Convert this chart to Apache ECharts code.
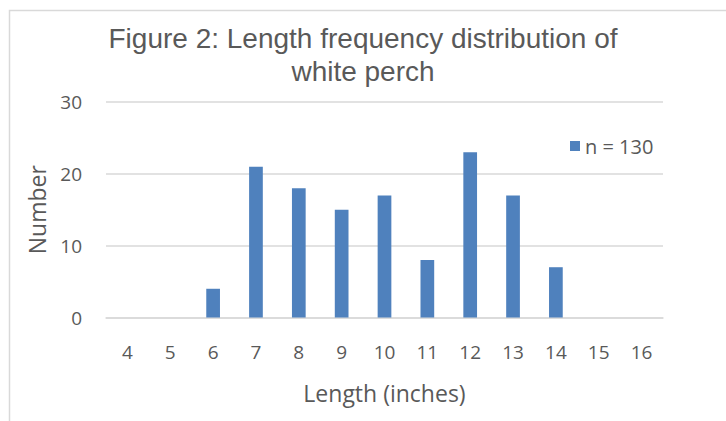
<!DOCTYPE html>
<html>
<head>
<meta charset="utf-8">
<script src="https://cdn.jsdelivr.net/npm/echarts@6/dist/echarts.min.js"></script>
<style>
  html, body { margin: 0; padding: 0; background: #fff; }
  #chart { width: 726px; height: 421px; }
</style>
</head>
<body>
<div id="chart"></div>
<script>
var lengths = ['4', '5', '6', '7', '8', '9', '10', '11', '12', '13', '14', '15', '16'];
var counts = [0, 0, 4, 21, 18, 15, 17, 8, 23, 17, 7, 0, 0];
var seriesName = 'n = 130';
var titleLines = ['Figure 2: Length frequency distribution of', 'white perch'];

(function() {
  var ink = '#595959';
  var rule = '#d9d9d9';
  var font = '"Open Sans", sans-serif';
  // tighter-metric face for the title so the two lines sit close without clashing
  var titleStyle = { fontSize: 28, fontWeight: 'normal', color: ink, fontFamily: '"Liberation Sans", sans-serif', lineHeight: 32 };

  var chart = echarts.init(document.getElementById('chart'), null, { renderer: 'svg' });
  chart.setOption({
    animation: false,
    backgroundColor: '#fff',
    graphic: [{
      type: 'rect',
      shape: { x: 9.5, y: 10.5, width: 800, height: 500 },
      style: { fill: 'none', stroke: rule, lineWidth: 1.5 },
      silent: true
    }],
    title: titleLines.map(function(t, i) {
      return { text: t, left: 'center', top: 22 + i * 33, padding: 0, textStyle: titleStyle };
    }),
    legend: {
      data: [seriesName],
      left: 565,
      top: 131,
      itemWidth: 10,
      itemHeight: 10,
      icon: 'rect',
      itemGap: 8,
      textStyle: { fontSize: 20, color: ink, fontFamily: font }
    },
    grid: { left: 106, right: 63, top: 102, bottom: 103.5, containLabel: false },
    xAxis: {
      type: 'category',
      data: lengths,
      name: 'Length (inches)',
      nameLocation: 'middle',
      nameGap: 64,
      nameTextStyle: { fontSize: 23, color: ink, fontFamily: font },
      axisLabel: { fontSize: 19, color: ink, fontFamily: font, margin: 25 },
      axisLine: { lineStyle: { color: rule, width: 1.5 } },
      axisTick: { show: false }
    },
    yAxis: {
      type: 'value',
      min: 0,
      max: 30,
      interval: 10,
      name: 'Number',
      nameLocation: 'middle',
      nameGap: 58,
      nameTextStyle: { fontSize: 23, color: ink, fontFamily: font },
      axisLabel: { fontSize: 19, color: ink, fontFamily: font, margin: 24 },
      splitLine: { lineStyle: { color: rule, width: 1.5 } },
      axisLine: { show: false },
      axisTick: { show: false }
    },
    series: [{
      name: seriesName,
      type: 'bar',
      data: counts,
      barWidth: '32%',
      itemStyle: { color: '#4f81bd' }
    }]
  });
})();
</script>
</body>
</html>
